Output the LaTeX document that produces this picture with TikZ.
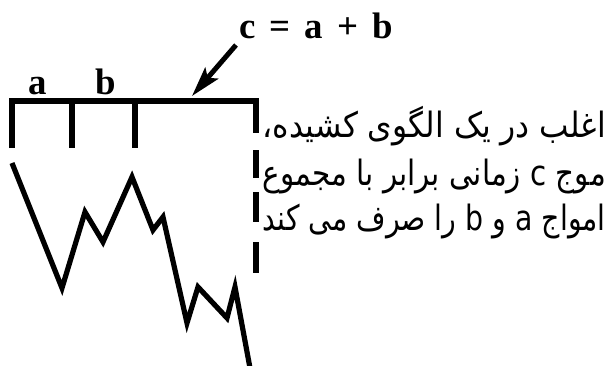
\documentclass[tikz,border=0pt]{standalone}
\usepackage{fontspec}
\setmainfont{Liberation Serif}
\newfontfamily\arabicfont[Script=Arabic]{DejaVu Sans}
\TeXXeTstate=1
\usetikzlibrary{arrows.meta}
\begin{document}
\begin{tikzpicture}[x=1bp,y=-1bp,
  thick line/.style={line width=5.2bp, line join=miter, line cap=butt},
  latinlabel/.style={font=\fontsize{37}{37}\selectfont\bfseries, inner sep=0pt},
  fatext/.style={font=\fontsize{35}{35}\selectfont\arabicfont, inner sep=0pt, anchor=base east}]
\useasboundingbox (0,0) rectangle (611,365);
% bracket
\draw[thick line] (12,148) -- (12,101) -- (256,101) -- (256,133);
\draw[thick line] (72,101) -- (72,148);
\draw[thick line] (135,101) -- (135,148);
\draw[thick line] (256,150) -- (256,178);
\draw[thick line] (256,192) -- (256,222);
\draw[thick line] (256,242) -- (256,273);
% zigzag
\draw[thick line] (12,163) -- (62,288) -- (85,212) -- (103,242) -- (132,177)
  -- (153,230) -- (163,217) -- (187,323) -- (198,287) -- (227,318) -- (235,287) -- (250,368);
% labels
\node[latinlabel, anchor=base] (la) at (38,94) {a};
\node[latinlabel, anchor=base] (lb) at (106,94) {b};
\node[latinlabel, anchor=base west] (lc) at (239,38) {c\hspace{0.38em}=\hspace{0.38em}a\hspace{0.38em}+\hspace{0.38em}b};
% arrow
\coordinate (atail) at (236,45);
\coordinate (atip) at (192,96);
\draw[line width=5bp, -{Stealth[length=30bp,width=17bp,inset=6bp]}] (atail) -- (atip);
% persian text
\node[fatext] (t1) at (606,137) {\resizebox{343bp}{\height}{\beginR اغلب در یک الگوی کشیده،\endR}};
\node[fatext] (t2) at (606,185) {\resizebox{343bp}{\height}{\beginR موج c زمانی برابر با مجموع\endR}};
\node[fatext] (t3) at (606,230) {\resizebox{343bp}{\height}{\beginR امواج a و b را صرف می کند\endR}};
\end{tikzpicture}
\end{document}
